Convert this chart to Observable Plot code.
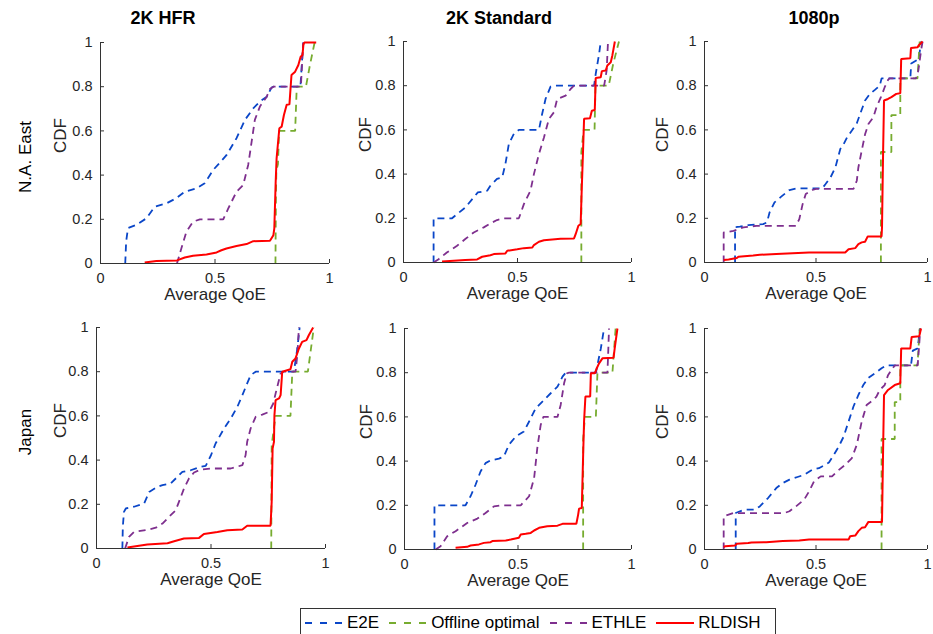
<!DOCTYPE html>
<html><head><meta charset="utf-8">
<script src="https://cdn.jsdelivr.net/npm/d3@7"></script>
<script src="https://cdn.jsdelivr.net/npm/@observablehq/plot@0.6"></script>
<style>
body{margin:0;background:#fff;font-family:"Liberation Sans",Arial,sans-serif;}
#wrap{position:relative;width:933px;height:634px;overflow:hidden;background:#fff;}
.panel{position:absolute;overflow:visible;}
.panel svg{max-width:none !important;}
.title{position:absolute;font-weight:bold;font-size:18px;color:#000;transform:translate(-50%,-50%);white-space:nowrap;}
.rowlab{position:absolute;font-size:17px;color:#000;transform:translate(-50%,-50%) rotate(-90deg);white-space:nowrap;}
#legend{position:absolute;left:300px;top:608px;width:476px;height:30px;border:1px solid #333;box-sizing:border-box;background:#fff;display:flex;align-items:center;padding-left:4px;font-size:17px;color:#000;}
#legend .it{display:flex;align-items:center;margin-right:10px;}
#legend svg{margin-right:4px;}
</style>
</head><body>
<div id="wrap"></div>
<script>
// ---- categories / labels ----
const columns = ["2K HFR", "2K Standard", "1080p"];
const rows = ["N.A. East", "Japan"];
const seriesNames = ["E2E", "Offline optimal", "ETHLE", "RLDISH"];
const xTicks = [0, 0.5, 1];
const yTicks = [0, 0.2, 0.4, 0.6, 0.8, 1];
const xLabel = "Average QoE";
const yLabel = "CDF";

// ---- data: [Average QoE, CDF] vertices ----
// N.A. East, 2K HFR
const e2e_na_hfr = [[0.108,0],[0.112,0.1],[0.12,0.16],[0.156,0.175],[0.2,0.204],[0.237,0.257],[0.288,0.272],[0.33,0.295],[0.368,0.325],[0.419,0.34],[0.455,0.363],[0.492,0.423],[0.55,0.49],[0.594,0.567],[0.631,0.65],[0.667,0.702],[0.696,0.733],[0.726,0.755],[0.747,0.796],[0.755,0.8],[0.873,0.8],[0.882,0.95],[0.886,1]];
const opt_na_hfr = [[0.764,0],[0.766,0.3],[0.768,0.42],[0.775,0.45],[0.78,0.6],[0.85,0.6],[0.857,0.8],[0.897,0.8],[0.915,0.9],[0.935,1]];
const ethle_na_hfr = [[0.334,0],[0.353,0.068],[0.375,0.143],[0.404,0.189],[0.434,0.2],[0.536,0.2],[0.558,0.249],[0.594,0.325],[0.623,0.355],[0.645,0.446],[0.66,0.551],[0.674,0.65],[0.696,0.71],[0.726,0.755],[0.74,0.79],[0.755,0.8],[0.875,0.8],[0.88,0.9],[0.885,1]];
const rl_na_hfr = [[0.193,0.005],[0.244,0.011],[0.334,0.014],[0.368,0.027],[0.404,0.035],[0.463,0.041],[0.507,0.05],[0.528,0.06],[0.55,0.068],[0.594,0.079],[0.638,0.088],[0.667,0.101],[0.74,0.103],[0.755,0.128],[0.759,0.159],[0.765,0.37],[0.769,0.476],[0.781,0.612],[0.791,0.619],[0.801,0.672],[0.813,0.718],[0.825,0.72],[0.834,0.853],[0.85,0.868],[0.864,0.898],[0.874,0.936],[0.882,0.943],[0.886,0.989],[0.89,1],[0.942,1]];
// N.A. East, 2K Standard
const e2e_na_std = [[0.132,0],[0.132,0.2],[0.213,0.2],[0.235,0.219],[0.271,0.249],[0.308,0.295],[0.326,0.317],[0.367,0.325],[0.381,0.347],[0.41,0.378],[0.433,0.385],[0.447,0.446],[0.462,0.536],[0.484,0.582],[0.506,0.6],[0.594,0.6],[0.608,0.672],[0.623,0.74],[0.645,0.796],[0.66,0.8],[0.836,0.8],[0.843,0.853],[0.858,0.944],[0.865,1]];
const opt_na_std = [[0.78,0],[0.78,0.5],[0.79,0.6],[0.838,0.6],[0.842,0.8],[0.9,0.8],[0.92,0.9],[0.945,1]];
const ethle_na_std = [[0.132,0],[0.154,0.015],[0.19,0.045],[0.235,0.076],[0.271,0.106],[0.308,0.136],[0.352,0.159],[0.389,0.181],[0.41,0.192],[0.44,0.2],[0.506,0.2],[0.528,0.264],[0.557,0.325],[0.572,0.4],[0.594,0.491],[0.616,0.566],[0.638,0.65],[0.66,0.68],[0.674,0.74],[0.711,0.755],[0.733,0.785],[0.748,0.8],[0.88,0.8],[0.891,0.869],[0.897,1]];
const rl_na_std = [[0.169,0.005],[0.271,0.011],[0.323,0.014],[0.345,0.026],[0.381,0.033],[0.396,0.038],[0.447,0.041],[0.455,0.053],[0.499,0.06],[0.528,0.065],[0.565,0.068],[0.572,0.079],[0.594,0.094],[0.616,0.101],[0.689,0.107],[0.748,0.109],[0.755,0.128],[0.767,0.166],[0.777,0.174],[0.782,0.34],[0.787,0.491],[0.792,0.65],[0.818,0.653],[0.826,0.687],[0.839,0.69],[0.843,0.835],[0.865,0.838],[0.87,0.866],[0.887,0.869],[0.894,0.891],[0.909,0.906],[0.916,0.937],[0.927,1]];
// N.A. East, 1080p
const e2e_na_1080 = [[0.137,0],[0.137,0.16],[0.159,0.162],[0.196,0.169],[0.263,0.174],[0.28,0.181],[0.292,0.227],[0.314,0.272],[0.344,0.298],[0.381,0.328],[0.41,0.335],[0.528,0.335],[0.543,0.355],[0.565,0.385],[0.587,0.43],[0.609,0.514],[0.624,0.536],[0.639,0.566],[0.661,0.597],[0.683,0.63],[0.698,0.672],[0.72,0.733],[0.742,0.763],[0.764,0.781],[0.786,0.8],[0.794,0.833],[0.923,0.833],[0.927,0.9],[0.96,0.92],[0.972,1]];
const opt_na_1080 = [[0.791,0],[0.791,0.5],[0.838,0.5],[0.838,0.667],[0.878,0.667],[0.878,0.833],[0.955,0.833],[0.965,1]];
const ethle_na_1080 = [[0.086,0],[0.086,0.136],[0.13,0.143],[0.145,0.148],[0.174,0.159],[0.233,0.166],[0.41,0.166],[0.425,0.196],[0.44,0.264],[0.454,0.31],[0.484,0.328],[0.5,0.333],[0.668,0.333],[0.683,0.37],[0.69,0.43],[0.705,0.506],[0.72,0.58],[0.735,0.627],[0.757,0.657],[0.771,0.702],[0.791,0.748],[0.808,0.793],[0.823,0.826],[0.83,0.833],[0.948,0.833],[0.959,0.869],[0.971,0.958],[0.978,1]];
const rl_na_1080 = [[0.086,0.011],[0.108,0.014],[0.145,0.02],[0.152,0.026],[0.218,0.032],[0.248,0.035],[0.322,0.039],[0.395,0.042],[0.469,0.045],[0.631,0.045],[0.646,0.06],[0.676,0.065],[0.69,0.083],[0.705,0.091],[0.72,0.094],[0.732,0.118],[0.794,0.118],[0.796,0.159],[0.801,0.506],[0.805,0.733],[0.823,0.74],[0.838,0.748],[0.86,0.763],[0.878,0.766],[0.882,0.921],[0.923,0.924],[0.926,0.971],[0.956,0.974],[0.96,0.982],[0.97,0.992],[0.978,1]];
// Japan, 2K HFR
const e2e_jp_hfr = [[0.113,0],[0.115,0.1],[0.12,0.166],[0.128,0.181],[0.164,0.189],[0.208,0.204],[0.23,0.256],[0.266,0.279],[0.288,0.287],[0.324,0.294],[0.353,0.324],[0.375,0.347],[0.411,0.354],[0.455,0.37],[0.477,0.374],[0.5,0.422],[0.52,0.475],[0.557,0.543],[0.586,0.588],[0.615,0.641],[0.637,0.694],[0.658,0.747],[0.673,0.784],[0.695,0.8],[0.862,0.8],[0.877,0.905],[0.887,1]];
const opt_jp_hfr = [[0.763,0],[0.765,0.468],[0.782,0.6],[0.847,0.6],[0.855,0.8],[0.923,0.8],[0.949,1]];
const ethle_jp_hfr = [[0.125,0],[0.142,0.053],[0.164,0.075],[0.215,0.083],[0.259,0.094],[0.288,0.113],[0.324,0.151],[0.346,0.173],[0.36,0.211],[0.382,0.271],[0.404,0.317],[0.426,0.344],[0.455,0.357],[0.506,0.362],[0.586,0.362],[0.637,0.377],[0.651,0.422],[0.658,0.483],[0.673,0.543],[0.695,0.596],[0.724,0.606],[0.753,0.618],[0.772,0.656],[0.782,0.701],[0.804,0.792],[0.817,0.8],[0.869,0.8],[0.877,0.875],[0.884,1]];
const rl_jp_hfr = [[0.135,0.005],[0.222,0.018],[0.31,0.024],[0.339,0.033],[0.382,0.045],[0.448,0.048],[0.469,0.066],[0.528,0.075],[0.571,0.083],[0.637,0.086],[0.658,0.103],[0.76,0.103],[0.765,0.211],[0.769,0.452],[0.775,0.483],[0.777,0.603],[0.782,0.671],[0.797,0.679],[0.804,0.694],[0.811,0.8],[0.847,0.811],[0.855,0.845],[0.869,0.86],[0.884,0.905],[0.898,0.935],[0.917,0.943],[0.927,0.965],[0.946,1]];
// Japan, 2K Standard
const e2e_jp_std = [[0.132,0],[0.132,0.2],[0.269,0.2],[0.291,0.241],[0.313,0.293],[0.335,0.353],[0.357,0.391],[0.379,0.403],[0.416,0.411],[0.438,0.421],[0.46,0.474],[0.49,0.511],[0.526,0.534],[0.549,0.579],[0.578,0.639],[0.615,0.677],[0.644,0.707],[0.674,0.737],[0.696,0.782],[0.71,0.8],[0.843,0.8],[0.85,0.835],[0.865,0.91],[0.879,1]];
const opt_jp_std = [[0.787,0],[0.787,0.5],[0.795,0.6],[0.843,0.6],[0.85,0.8],[0.916,0.8],[0.93,1]];
const ethle_jp_std = [[0.137,0],[0.159,0.015],[0.188,0.06],[0.225,0.083],[0.276,0.12],[0.321,0.14],[0.357,0.165],[0.394,0.195],[0.424,0.2],[0.512,0.2],[0.549,0.241],[0.571,0.323],[0.585,0.459],[0.6,0.564],[0.612,0.6],[0.674,0.6],[0.688,0.654],[0.703,0.752],[0.715,0.797],[0.725,0.8],[0.894,0.8],[0.897,0.88],[0.901,1]];
const rl_jp_std = [[0.225,0.008],[0.276,0.012],[0.291,0.018],[0.328,0.023],[0.35,0.03],[0.379,0.033],[0.387,0.038],[0.446,0.041],[0.468,0.045],[0.504,0.053],[0.512,0.068],[0.534,0.071],[0.556,0.075],[0.571,0.086],[0.593,0.098],[0.629,0.105],[0.674,0.108],[0.696,0.116],[0.757,0.116],[0.765,0.158],[0.769,0.185],[0.781,0.188],[0.787,0.429],[0.791,0.579],[0.797,0.692],[0.818,0.692],[0.821,0.797],[0.838,0.797],[0.847,0.82],[0.857,0.842],[0.872,0.865],[0.921,0.868],[0.926,0.91],[0.938,1]];
// Japan, 1080p
const e2e_jp_1080 = [[0.14,0],[0.14,0.165],[0.159,0.173],[0.181,0.18],[0.226,0.18],[0.248,0.195],[0.285,0.233],[0.322,0.278],[0.351,0.301],[0.381,0.316],[0.417,0.328],[0.447,0.338],[0.484,0.361],[0.513,0.368],[0.535,0.38],[0.558,0.394],[0.58,0.429],[0.602,0.466],[0.624,0.511],[0.646,0.579],[0.668,0.647],[0.69,0.699],[0.712,0.744],[0.735,0.777],[0.764,0.797],[0.794,0.82],[0.816,0.833],[0.926,0.833],[0.934,0.9],[0.956,0.91],[0.966,1]];
const opt_jp_1080 = [[0.794,0],[0.794,0.5],[0.853,0.5],[0.853,0.667],[0.878,0.667],[0.878,0.833],[0.955,0.833],[0.965,1]];
const ethle_jp_1080 = [[0.086,0],[0.086,0.15],[0.108,0.158],[0.13,0.165],[0.358,0.165],[0.381,0.173],[0.41,0.195],[0.447,0.226],[0.469,0.263],[0.491,0.308],[0.521,0.331],[0.572,0.331],[0.594,0.353],[0.631,0.383],[0.661,0.414],[0.683,0.474],[0.705,0.579],[0.727,0.654],[0.757,0.677],[0.771,0.692],[0.786,0.722],[0.808,0.744],[0.823,0.789],[0.838,0.812],[0.853,0.833],[0.956,0.833],[0.968,1]];
const rl_jp_1080 = [[0.086,0.011],[0.093,0.015],[0.137,0.018],[0.145,0.026],[0.196,0.029],[0.211,0.032],[0.277,0.033],[0.351,0.038],[0.425,0.041],[0.469,0.045],[0.646,0.045],[0.653,0.06],[0.676,0.063],[0.69,0.083],[0.705,0.098],[0.72,0.101],[0.735,0.125],[0.796,0.125],[0.801,0.459],[0.805,0.699],[0.823,0.722],[0.853,0.744],[0.878,0.752],[0.882,0.91],[0.923,0.91],[0.929,0.962],[0.963,0.965],[0.971,1]];

// ---- styling / layout ----
const seriesColors = ["#0a46c8", "#77ac30", "#7e2f8e", "#ff0000"];
const seriesDash = ["7,5", "7,5", "7,5", null];
const seriesWidth = [1.8, 1.8, 1.8, 2];
const axisColor = "#333333";
const textColor = "#262626";
const ML = 60, MR = 10, MT = 10, MB = 45;

const panelData = [
  [e2e_na_hfr, opt_na_hfr, ethle_na_hfr, rl_na_hfr],
  [e2e_na_std, opt_na_std, ethle_na_std, rl_na_std],
  [e2e_na_1080, opt_na_1080, ethle_na_1080, rl_na_1080],
  [e2e_jp_hfr, opt_jp_hfr, ethle_jp_hfr, rl_jp_hfr],
  [e2e_jp_std, opt_jp_std, ethle_jp_std, rl_jp_std],
  [e2e_jp_1080, opt_jp_1080, ethle_jp_1080, rl_jp_1080]
];
const layout = [
  {left:100, top:42, pw:229, ph:221, cdf:40},
  {left:403, top:41, pw:228, ph:221, cdf:38},
  {left:704, top:41, pw:223, ph:221, cdf:42},
  {left:96,  top:327, pw:229, ph:221, cdf:36},
  {left:404, top:328, pw:227, ph:221, cdf:38},
  {left:704, top:328, pw:223, ph:221, cdf:42}
];
const titlePos = [{x:163, y:18}, {x:499, y:18}, {x:814, y:18}];
const rowPos = [{x:26, y:157}, {x:26, y:432}];

const wrap = document.getElementById("wrap");

layout.forEach((L, i) => {
  const series = panelData[i];
  const W = ML + L.pw + MR, H = MT + L.ph + MB;
  const lines = series.map((d, s) => Plot.line(d, {
    x: p => p[0], y: p => p[1],
    stroke: seriesColors[s], strokeWidth: seriesWidth[s],
    strokeDasharray: seriesDash[s] || undefined,
    strokeLinejoin: "miter", strokeLinecap: "butt"
  }));
  const chart = Plot.plot({
    width: W, height: H,
    marginLeft: ML, marginRight: MR, marginTop: MT, marginBottom: MB,
    style: {fontFamily: "'Liberation Sans', Arial, sans-serif", fontSize: "14.5px", color: textColor, background: "transparent", overflow: "visible", maxWidth: "none"},
    x: {domain: [0, 1], ticks: xTicks, tickFormat: d => String(d), tickSize: 0, tickPadding: 9, label: null},
    y: {domain: [0, 1], ticks: yTicks, tickFormat: d => String(d), tickSize: 0, tickPadding: 8, label: null},
    marks: [
      ...lines,
      Plot.ruleY([0], {stroke: axisColor, strokeWidth: 1}),
      Plot.ruleX([0], {stroke: axisColor, strokeWidth: 1}),
      Plot.tickX(xTicks, {x: d => d, insetTop: L.ph - 4, stroke: axisColor}),
      Plot.tickY(yTicks, {y: d => d, insetRight: L.pw - 4, stroke: axisColor}),
      Plot.text([xLabel], {frameAnchor: "bottom", dy: 36, fontSize: 17, fill: textColor}),
      Plot.text([yLabel], {frameAnchor: "left", dx: -L.cdf, rotate: -90, fontSize: 17, fill: textColor})
    ]
  });
  const div = document.createElement("div");
  div.className = "panel";
  div.style.left = (L.left - ML) + "px";
  div.style.top = (L.top - MT) + "px";
  div.style.width = W + "px";
  div.style.height = H + "px";
  div.appendChild(chart);
  wrap.appendChild(div);
});

columns.forEach((c, i) => {
  const t = document.createElement("div");
  t.className = "title";
  t.textContent = c;
  t.style.left = titlePos[i].x + "px";
  t.style.top = titlePos[i].y + "px";
  wrap.appendChild(t);
});
rows.forEach((r, i) => {
  const t = document.createElement("div");
  t.className = "rowlab";
  t.textContent = r;
  t.style.left = rowPos[i].x + "px";
  t.style.top = rowPos[i].y + "px";
  wrap.appendChild(t);
});

// legend
const leg = document.createElement("div");
leg.id = "legend";
seriesNames.forEach((n, s) => {
  const it = document.createElement("div");
  it.className = "it";
  const ns = "http://www.w3.org/2000/svg";
  const svg = document.createElementNS(ns, "svg");
  svg.setAttribute("width", 38); svg.setAttribute("height", 10);
  const ln = document.createElementNS(ns, "line");
  ln.setAttribute("x1", 0); ln.setAttribute("x2", 38);
  ln.setAttribute("y1", 5); ln.setAttribute("y2", 5);
  ln.setAttribute("stroke", seriesColors[s]);
  ln.setAttribute("stroke-width", seriesWidth[s]);
  if (seriesDash[s]) ln.setAttribute("stroke-dasharray", "7,8");
  svg.appendChild(ln);
  it.appendChild(svg);
  const sp = document.createElement("span");
  sp.textContent = n;
  it.appendChild(sp);
  leg.appendChild(it);
});
wrap.appendChild(leg);
</script>
</body></html>
